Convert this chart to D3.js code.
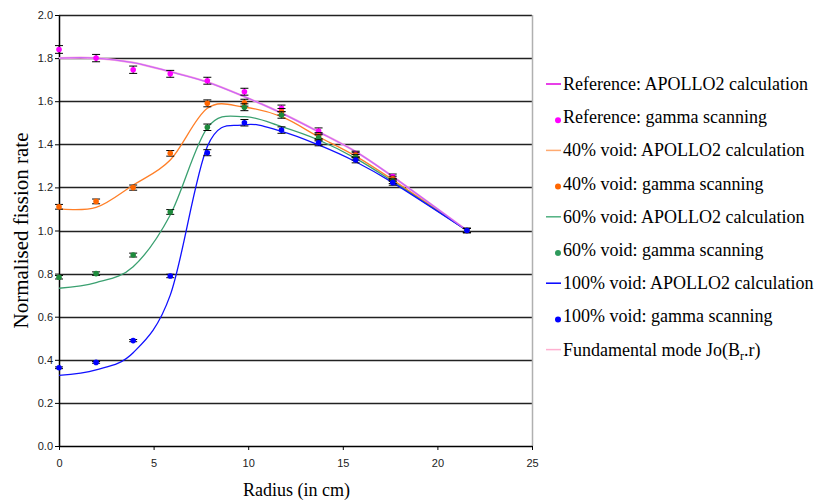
<!DOCTYPE html>
<html>
<head>
<meta charset="utf-8">
<script src="https://cdn.jsdelivr.net/npm/d3@7"></script>
<style>
  body { margin: 0; background: #fff; }
  svg { display: block; }
</style>
</head>
<body>
<div id="chart"></div>
<script>
// Radii of the measurement / calculation positions (cm)
const radii = [0, 1.96, 3.92, 5.88, 7.84, 9.8, 11.76, 13.72, 15.68, 17.64, 21.56];

// APOLLO2 calculations (smoothed lines)
const refCalc    = [1.80, 1.80, 1.779, 1.737, 1.689, 1.621, 1.545, 1.458, 1.366, 1.25, 1.0];
const void40Calc = [1.10, 1.107, 1.211, 1.327, 1.567, 1.572, 1.528, 1.435, 1.345, 1.235, 1.0];
const void60Calc = [0.732, 0.758, 0.832, 1.072, 1.476, 1.528, 1.482, 1.42, 1.335, 1.228, 1.0];
const void100Calc = [0.328, 0.353, 0.433, 0.70, 1.39, 1.49, 1.46, 1.397, 1.319, 1.222, 1.0];
// Fundamental mode Jo(Br.r)
const fundMode   = [1.80, 1.80, 1.779, 1.737, 1.689, 1.621, 1.545, 1.458, 1.366, 1.25, 1.0];

// Gamma scanning measurements
const refGamma    = [1.84, 1.80, 1.746, 1.727, 1.695, 1.644, 1.567, 1.462, 1.355, 1.25, 1.0];
const void40Gamma = [1.11, 1.135, 1.199, 1.358, 1.59, 1.593, 1.551, 1.44, 1.35, 1.24, 1.0];
const void60Gamma = [0.783, 0.80, 0.886, 1.086, 1.479, 1.572, 1.536, 1.43, 1.34, 1.23, 1.0];
const void100Gamma = [0.363, 0.388, 0.489, 0.789, 1.361, 1.50, 1.466, 1.407, 1.327, 1.222, 1.0];

// Error bars (half-width)
const refErr    = [0.018, 0.017, 0.017, 0.016, 0.016, 0.016, 0.015, 0.014, 0.013, 0.012, 0.01];
const void40Err = [0.011, 0.011, 0.012, 0.013, 0.016, 0.016, 0.015, 0.014, 0.013, 0.012, 0.01];
const void60Err = [0.008, 0.008, 0.009, 0.011, 0.015, 0.016, 0.015, 0.014, 0.013, 0.012, 0.01];
const void100Err = [0.004, 0.004, 0.005, 0.008, 0.014, 0.015, 0.015, 0.014, 0.013, 0.012, 0.01];

const yTicks = [0, 0.2, 0.4, 0.6, 0.8, 1.0, 1.2, 1.4, 1.6, 1.8, 2.0];
const xTicks = [0, 5, 10, 15, 20, 25];

const calcSeries = [
    { name: "Fundamental mode", values: fundMode, color: "#ffb0d8", width: 2.2 },
    { name: "40% void: APOLLO2 calculation", values: void40Calc, color: "#ff7f27", width: 1.3 },
    { name: "60% void: APOLLO2 calculation", values: void60Calc, color: "#3aa070", width: 1.3 },
    { name: "100% void: APOLLO2 calculation", values: void100Calc, color: "#1010ff", width: 1.3 },
    { name: "Reference: APOLLO2 calculation", values: refCalc, color: "#cc66f8", width: 1.3 }
];

const gammaSeries = [
    { values: refGamma, err: refErr, color: "#ff00ff" },
    { values: void40Gamma, err: void40Err, color: "#ff6600" },
    { values: void60Gamma, err: void60Err, color: "#1e8a3c" },
    { values: void100Gamma, err: void100Err, color: "#0000ff" }
];

// Legend entries (type: line or dot)
const legendItems = [
    { label: "Reference: APOLLO2 calculation", type: "line", color: "#e000e0" },
    { label: "Reference: gamma scanning", type: "dot", color: "#ff00ff" },
    { label: "40% void: APOLLO2 calculation", type: "line", color: "#ffaa70" },
    { label: "40% void: gamma scanning", type: "dot", color: "#ff6600" },
    { label: "60% void: APOLLO2 calculation", type: "line", color: "#50b080" },
    { label: "60% void: gamma scanning", type: "dot", color: "#2e9a5c" },
    { label: "100% void: APOLLO2 calculation", type: "line", color: "#0000ff" },
    { label: "100% void: gamma scanning", type: "dot", color: "#0000ff" },
    { label: "Fundamental mode", type: "line", color: "#ffb0d0" }
];

const margin = { top: 15, left: 59 };
const width = 473, height = 431;

const svg = d3.select("#chart").append("svg")
    .attr("width", 820)
    .attr("height", 500);

const g = svg.append("g").attr("transform", `translate(${margin.left},${margin.top})`);

const x = d3.scaleLinear().domain([0, 25]).range([0, width]);
const y = d3.scaleLinear().domain([0, 2]).range([height, 0]);

// Gridlines
g.selectAll(".grid")
    .data(yTicks.filter(d => d > 0))
    .enter().append("line")
    .attr("x1", 0).attr("x2", width)
    .attr("y1", d => Math.round(y(d)) + 0.5).attr("y2", d => Math.round(y(d)) + 0.5)
    .attr("stroke", "#222")
    .attr("stroke-width", 1.3);

// Right border
g.append("line")
    .attr("x1", width + 0.5).attr("x2", width + 0.5)
    .attr("y1", 0).attr("y2", height)
    .attr("stroke", "#b0b0b0").attr("stroke-width", 1.5);

// Axes
const yAxis = g.append("g")
    .call(d3.axisLeft(y).tickValues(yTicks).tickFormat(d3.format(".1f")).tickSize(4).tickSizeOuter(0));
const xAxis = g.append("g")
    .attr("transform", `translate(0,${height})`)
    .call(d3.axisBottom(x).tickValues(xTicks).tickSize(4).tickSizeOuter(0));

[yAxis, xAxis].forEach(ax => {
    ax.select(".domain").attr("stroke", "#000").attr("stroke-width", 1.5);
    ax.selectAll(".tick line").attr("stroke", "#000");
    ax.selectAll("text")
        .style("font-family", "'Liberation Sans', Arial, sans-serif")
        .style("font-size", "11px")
        .attr("fill", "#222");
});
yAxis.selectAll("text").attr("x", -6);
xAxis.selectAll("text").attr("dy", "1.25em");

// Calculation curves
const line = d3.line()
    .x((d, i) => x(radii[i]))
    .y(d => y(d))
    .curve(d3.curveCardinal.tension(0));

g.selectAll(".calc")
    .data(calcSeries)
    .enter().append("path")
    .attr("fill", "none")
    .attr("stroke", d => d.color)
    .attr("stroke-width", d => d.width)
    .attr("d", d => line(d.values));

// Gamma scanning points with error bars
gammaSeries.forEach(s => {
    const pts = s.values.map((v, i) => ({ r: radii[i], v: v, e: s.err[i] }));
    const grp = g.append("g");
    grp.selectAll(".eb")
        .data(pts)
        .enter().append("path")
        .attr("fill", "none")
        .attr("stroke", "#000")
        .attr("stroke-width", 1)
        .attr("d", d => {
            const cx = x(d.r), y1 = y(d.v + d.e), y2 = y(d.v - d.e);
            return `M${cx - 4},${y1}H${cx + 4}M${cx},${y1}V${y2}M${cx - 4},${y2}H${cx + 4}`;
        });
    grp.selectAll(".pt")
        .data(pts)
        .enter().append("circle")
        .attr("cx", d => x(d.r))
        .attr("cy", d => y(d.v))
        .attr("r", 2.8)
        .attr("fill", s.color);
});

// Axis titles
svg.append("text")
    .attr("transform", `translate(28,${margin.top + height / 2}) rotate(-90)`)
    .attr("text-anchor", "middle")
    .style("font-family", "'Liberation Serif', 'Times New Roman', serif")
    .style("font-size", "21px")
    .text("Normalised fission rate");

svg.append("text")
    .attr("x", margin.left + width / 2 + 1)
    .attr("y", 496)
    .attr("text-anchor", "middle")
    .style("font-family", "'Liberation Serif', 'Times New Roman', serif")
    .style("font-size", "18px")
    .text("Radius (in cm)");

// Legend
const legend = svg.append("g").attr("transform", "translate(545,84)");
const rows = legend.selectAll(".leg")
    .data(legendItems)
    .enter().append("g")
    .attr("transform", (d, i) => `translate(0,${i * 33.2})`);

rows.filter(d => d.type === "line").append("line")
    .attr("x1", 1).attr("x2", 16)
    .attr("y1", 0).attr("y2", 0)
    .attr("stroke", d => d.color)
    .attr("stroke-width", 1.5);

rows.filter(d => d.type === "dot").append("circle")
    .attr("cx", 13).attr("cy", 3)
    .attr("r", 3)
    .attr("fill", d => d.color);

const texts = rows.append("text")
    .attr("x", 18)
    .attr("y", 6)
    .style("font-family", "'Liberation Serif', 'Times New Roman', serif")
    .style("font-size", "18px")
    .attr("fill", "#000")
    .text(d => d.label);

// Subscript part of the fundamental mode label
texts.filter(d => d.label === "Fundamental mode").each(function () {
    const t = d3.select(this);
    t.text("Fundamental mode Jo(B");
    t.append("tspan").attr("dy", 4).style("font-size", "12px").text("r");
    t.append("tspan").attr("dy", -4).text(".r)");
});
</script>
</body>
</html>
